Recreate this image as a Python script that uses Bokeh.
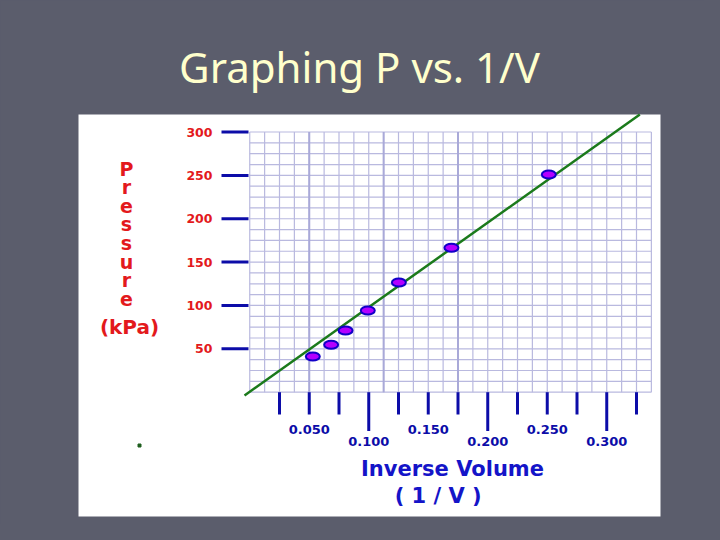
import numpy as np
from bokeh.plotting import figure
from bokeh.models import Range1d
from bokeh.core.properties import value
from bokeh.embed import file_html
from bokeh.resources import INLINE

# ---------------- data ----------------
inv_volume = [0.0530, 0.0684, 0.0805, 0.0992, 0.1253, 0.1695, 0.2513]
pressure = [41.2, 54.7, 71.1, 94.2, 126.5, 166.5, 251.0]
fit_x = [-0.0044, 0.3278]
fit_y = [-3.8, 320.2]

y_ticks = [50, 100, 150, 200, 250, 300]
y_tick_labels = ["50", "100", "150", "200", "250", "300"]
x_ticks = [0.025, 0.050, 0.075, 0.100, 0.125, 0.150, 0.175, 0.200,
           0.225, 0.250, 0.275, 0.300, 0.325]
x_major_ticks = [0.100, 0.200, 0.300]
x_label_values = [0.050, 0.100, 0.150, 0.200, 0.250, 0.300]
x_tick_labels = ["0.050", "0.100", "0.150", "0.200", "0.250", "0.300"]

title_text = "Graphing P vs. 1/V"
y_title_letters = ["P", "r", "e", "s", "s", "u", "r", "e"]
y_unit_text = "(kPa)"
x_title_lines = ["Inverse Volume", "( 1 / V )"]

# ---------------- layout (page pixels -> data) ----------------
W, H = 704, 524
OFF = 0
X0, SX = 249.25, 1190.0
Y0, SY = 391.7, 0.8673


def dx(px):
    return (px - X0) / SX


def dy(py):
    return (Y0 - py) / SY


BG = "#5b5d6c"
p = figure(width=W, height=H, output_backend="svg", toolbar_location=None,
           x_range=Range1d(dx(OFF), dx(OFF + W)),
           y_range=Range1d(dy(OFF + H), dy(OFF)),
           x_axis_type=None, y_axis_type=None, min_border=0)
p.grid.visible = False
p.outline_line_color = None
p.background_fill_color = BG
p.border_fill_color = BG

# white panel
p.quad(left=[dx(78)], right=[dx(660)], bottom=[dy(516)], top=[dy(114)],
       fill_color="white", line_color=None)

# grid paper
x_max, y_max = 0.3375, 300
vx = np.arange(0, x_max + 1e-9, 0.0125)
hy = np.arange(0, y_max + 1e-9, 12.5)
grid_col = "#b9b9df"
p.segment(x0=vx, y0=np.zeros_like(vx), x1=vx, y1=np.full_like(vx, y_max),
          line_color=grid_col, line_width=1.2)
p.segment(x0=np.zeros_like(hy), y0=hy, x1=np.full_like(hy, x_max), y1=hy,
          line_color=grid_col, line_width=1.2)
dark_vx = [0.05, 0.1125, 0.175]
p.segment(x0=dark_vx, y0=[0] * 3, x1=dark_vx, y1=[y_max] * 3,
          line_color="#a9a9d8", line_width=2)

# y ticks
tick_col = "#0c0ca8"
p.segment(x0=[dx(221)] * len(y_ticks), y0=y_ticks,
          x1=[dx(248)] * len(y_ticks), y1=y_ticks,
          line_color=tick_col, line_width=3)
p.text(x=[dx(212)] * len(y_ticks), y=y_ticks, text=y_tick_labels,
       text_align="right", text_baseline="middle",
       text_font=value("DejaVu Sans"), text_font_style="bold",
       text_font_size="12.5px", text_color="#e3191c")

# x ticks
tick_bottom = [dy(430.5) if t in x_major_ticks else dy(414) for t in x_ticks]
p.segment(x0=x_ticks, y0=[0] * len(x_ticks), x1=x_ticks, y1=tick_bottom,
          line_color=tick_col, line_width=3)
lab_y = [dy(429) if i % 2 == 0 else dy(441) for i in range(len(x_label_values))]
p.text(x=x_label_values, y=lab_y, text=x_tick_labels,
       text_align="center", text_baseline="middle",
       text_font=value("DejaVu Sans"), text_font_style="bold",
       text_font_size="13px", text_color="#0c0ca8")

# best-fit line and points
p.line(fit_x, fit_y, line_color="#1b7a1b", line_width=2.5)
p.ellipse(x=inv_volume, y=pressure, width=14, height=8,
          width_units="screen", height_units="screen",
          fill_color="#b400ff", line_color="#1200c8", line_width=2)

# stray dot
p.scatter(x=[dx(139)], y=[dy(445)], marker="square", size=3,
          fill_color="#1e5e1e", line_color="#1e5e1e")

# axis titles
p.text(x=[dx(126)] * len(y_title_letters),
       y=[dy(168 + 18.6 * i) for i in range(len(y_title_letters))],
       text=y_title_letters, text_align="center", text_baseline="middle",
       text_font=value("DejaVu Sans"), text_font_style="bold",
       text_font_size="19px", text_color="#e3191c")
p.text(x=[dx(129)], y=[dy(326)], text=[y_unit_text],
       text_align="center", text_baseline="middle",
       text_font=value("DejaVu Sans"), text_font_style="bold",
       text_font_size="20px", text_color="#e3191c")
p.text(x=[dx(452), dx(437.7)], y=[dy(468), dy(495)], text=x_title_lines,
       text_align="center", text_baseline="middle",
       text_font=value("DejaVu Sans"), text_font_style="bold",
       text_font_size="21px", text_color="#1414c8")

# slide title
p.text(x=[dx(359)], y=[dy(66)], text=[title_text],
       text_align="center", text_baseline="middle",
       text_font=value("Noto Sans"), text_font_size="42px",
       text_color="#ffffcc")

html = file_html(p, INLINE)
html = html.replace("</head>", "<style>body{background:%s;}</style></head>" % BG, 1)
open("out.html", "w").write(html)
